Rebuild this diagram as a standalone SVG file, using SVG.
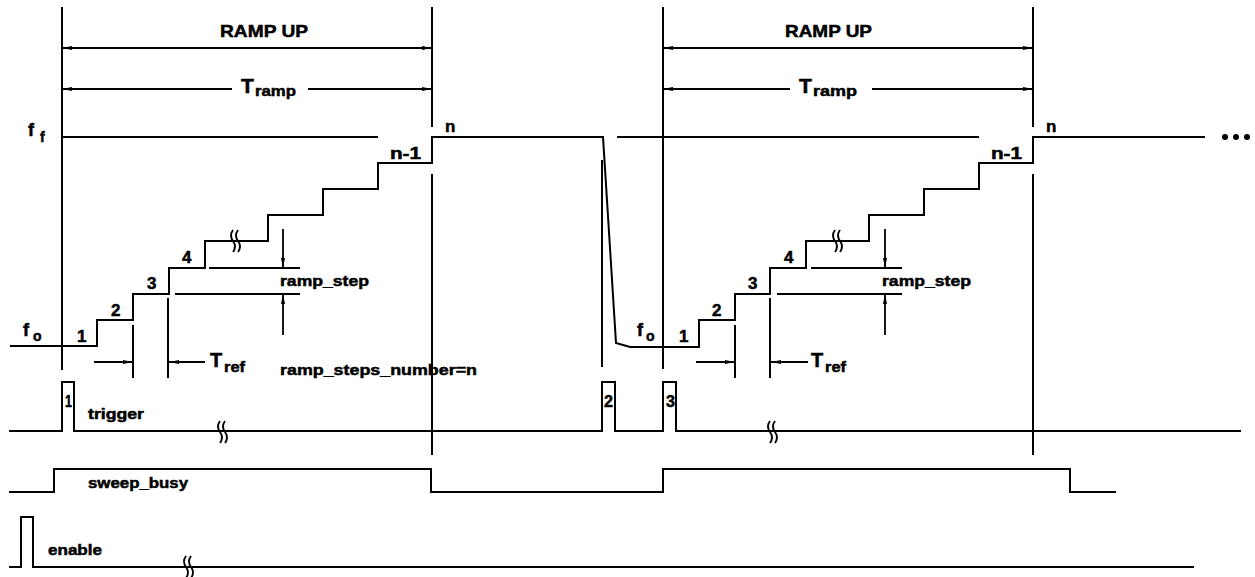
<svg xmlns="http://www.w3.org/2000/svg" width="1255" height="577" viewBox="0 0 1255 577">
<style>
.ln{stroke:#000;stroke-width:2;fill:none;stroke-linejoin:miter}
.ar{stroke:#000;stroke-width:1.8;fill:none}
.t{font-family:"Liberation Sans",Arial,sans-serif;font-weight:bold;fill:#000;stroke:#000;stroke-width:0.5}
</style>
<defs>
<marker id="ah" viewBox="0 0 10 4" refX="10" refY="2" markerWidth="10" markerHeight="4" markerUnits="userSpaceOnUse" orient="auto-start-reverse"><path d="M0,0 L10,2 L0,4 z" fill="#000"/></marker>
<path id="sq" d="M0,-11 q-4,5.5 0,11 q4,5.5 0,11 M5,-11 q-4,5.5 0,11 q4,5.5 0,11" stroke="#000" stroke-width="1.8" fill="none"/>
</defs>
<rect width="1255" height="577" fill="#fff"/>

<g id="connectors">
  <!-- frequency staircase -->
  <path class="ln" d="M10,346 H97 V320 H133 V294 H169 V268 H205 V241 H268 V215 H323 V189 H378 V163 H432 V137 H603 L616,343 L630,347 H699 V320 H735 V294 H770 V268 H806 V241 H869 V215 H924 V189 H979 V163 H1033 V137 H1205"/>
  <!-- f_f levels -->
  <path class="ln" d="M63,137 H378 M617,137 H979"/>
  <!-- vertical markers -->
  <path class="ln" d="M62,7 V370 M432,7 V127 M432,174 V455 M602,160 V367 M663,7 V369 M1033,7 V127 M1033,174 V455"/>
  <!-- T_ref ticks -->
  <path class="ln" d="M133,325 V378 M168,298 V378 M735,325 V378 M770,298 V378"/>
  <!-- ramp_step reference lines -->
  <path class="ln" d="M209,268 H300 M175,294 H300 M811,268 H902 M777,294 H902"/>
  <!-- dimension arrows -->
  <path class="ar" d="M62,48 H432" marker-start="url(#ah)" marker-end="url(#ah)"/>
  <path class="ln" d="M223,48 H323" stroke-width="2.6"/>
  <path class="ar" d="M62,89 H232" marker-start="url(#ah)"/>
  <path class="ar" d="M308,89 H432" marker-end="url(#ah)"/>
  <path class="ar" d="M663,48 H1033" marker-start="url(#ah)" marker-end="url(#ah)"/>
  <path class="ln" d="M788,48 H928" stroke-width="2.6"/>
  <path class="ar" d="M663,89 H790" marker-start="url(#ah)"/>
  <path class="ar" d="M872,89 H1033" marker-end="url(#ah)"/>
  <path class="ar" d="M94,362 H133" marker-end="url(#ah)"/>
  <path class="ar" d="M205,362 H169" marker-end="url(#ah)"/>
  <path class="ar" d="M696,362 H735" marker-end="url(#ah)"/>
  <path class="ar" d="M808,362 H771" marker-end="url(#ah)"/>
  <path class="ar" d="M283,229 V268" marker-end="url(#ah)"/>
  <path class="ar" d="M283,335 V294" marker-end="url(#ah)"/>
  <path class="ar" d="M885,229 V268" marker-end="url(#ah)"/>
  <path class="ar" d="M885,335 V294" marker-end="url(#ah)"/>
  <!-- digital signals -->
  <path class="ln" d="M9,431 H62 V382 H74 V431 H602 V382 H615 V431 H663 V382 H676 V431 H1241"/>
  <path class="ln" d="M9,492 H54 V469 H431 V492 H663 V469 H1070 V492 H1116"/>
  <path class="ln" d="M9,567 H21 V517 H33 V567 H1194"/>
  <!-- break marks -->
  <use href="#sq" x="233" y="241"/>
  <use href="#sq" x="835" y="241"/>
  <use href="#sq" x="220" y="432"/>
  <use href="#sq" x="770" y="432"/>
  <use href="#sq" x="186" y="567"/>
  <!-- continuation dots -->
  <circle cx="1225" cy="137" r="3"/>
  <circle cx="1236" cy="137" r="3"/>
  <circle cx="1247" cy="137" r="3"/>
</g>

<g id="ramp-left">
  <text class="t" x="220" y="37" font-size="17" textLength="88" lengthAdjust="spacingAndGlyphs">RAMP  UP</text>
  <text class="t" x="241" y="93" font-size="21">T</text>
  <text class="t" x="255" y="96" font-size="15" textLength="41" lengthAdjust="spacingAndGlyphs">ramp</text>
  <text class="t" x="28" y="136" font-size="18">f</text>
  <text class="t" x="40" y="142" font-size="14">f</text>
  <text class="t" x="23" y="336" font-size="18">f</text>
  <text class="t" x="33" y="341" font-size="14">o</text>
  <text class="t" x="77" y="342" font-size="17">1</text>
  <text class="t" x="111" y="316" font-size="17">2</text>
  <text class="t" x="147" y="289" font-size="17">3</text>
  <text class="t" x="182" y="263" font-size="17">4</text>
  <text class="t" x="390" y="159" font-size="16" textLength="31" lengthAdjust="spacingAndGlyphs">n-1</text>
  <text class="t" x="445" y="132" font-size="17">n</text>
  <text class="t" x="210" y="367" font-size="20">T</text>
  <text class="t" x="224" y="372" font-size="15" textLength="21" lengthAdjust="spacingAndGlyphs">ref</text>
  <text class="t" x="280" y="286" font-size="15" textLength="89" lengthAdjust="spacingAndGlyphs">ramp_step</text>
  <text class="t" x="280" y="375" font-size="15" textLength="197" lengthAdjust="spacingAndGlyphs">ramp_steps_number=n</text>
</g>

<g id="ramp-right">
  <text class="t" x="785" y="37" font-size="17" textLength="87" lengthAdjust="spacingAndGlyphs">RAMP  UP</text>
  <text class="t" x="799" y="93" font-size="21">T</text>
  <text class="t" x="813" y="96" font-size="15" textLength="44" lengthAdjust="spacingAndGlyphs">ramp</text>
  <text class="t" x="637" y="336" font-size="18">f</text>
  <text class="t" x="646" y="341" font-size="14">o</text>
  <text class="t" x="679" y="342" font-size="17">1</text>
  <text class="t" x="712" y="316" font-size="17">2</text>
  <text class="t" x="748" y="289" font-size="17">3</text>
  <text class="t" x="784" y="263" font-size="17">4</text>
  <text class="t" x="991" y="159" font-size="16" textLength="31" lengthAdjust="spacingAndGlyphs">n-1</text>
  <text class="t" x="1046" y="132" font-size="17">n</text>
  <text class="t" x="811" y="367" font-size="20">T</text>
  <text class="t" x="825" y="372" font-size="15" textLength="21" lengthAdjust="spacingAndGlyphs">ref</text>
  <text class="t" x="882" y="286" font-size="15" textLength="89" lengthAdjust="spacingAndGlyphs">ramp_step</text>
</g>

<g id="trigger">
  <text class="t" x="88" y="419" font-size="15" textLength="56" lengthAdjust="spacingAndGlyphs">trigger</text>
  <text class="t" x="65" y="407" font-size="17" textLength="7" lengthAdjust="spacingAndGlyphs">1</text>
  <text class="t" x="604" y="407" font-size="17" textLength="9" lengthAdjust="spacingAndGlyphs">2</text>
  <text class="t" x="666" y="407" font-size="17" textLength="9" lengthAdjust="spacingAndGlyphs">3</text>
</g>

<g id="sweep_busy">
  <text class="t" x="88" y="488" font-size="15" textLength="100" lengthAdjust="spacingAndGlyphs">sweep_busy</text>
</g>

<g id="enable">
  <text class="t" x="48" y="555" font-size="15" textLength="54" lengthAdjust="spacingAndGlyphs">enable</text>
</g>
</svg>
